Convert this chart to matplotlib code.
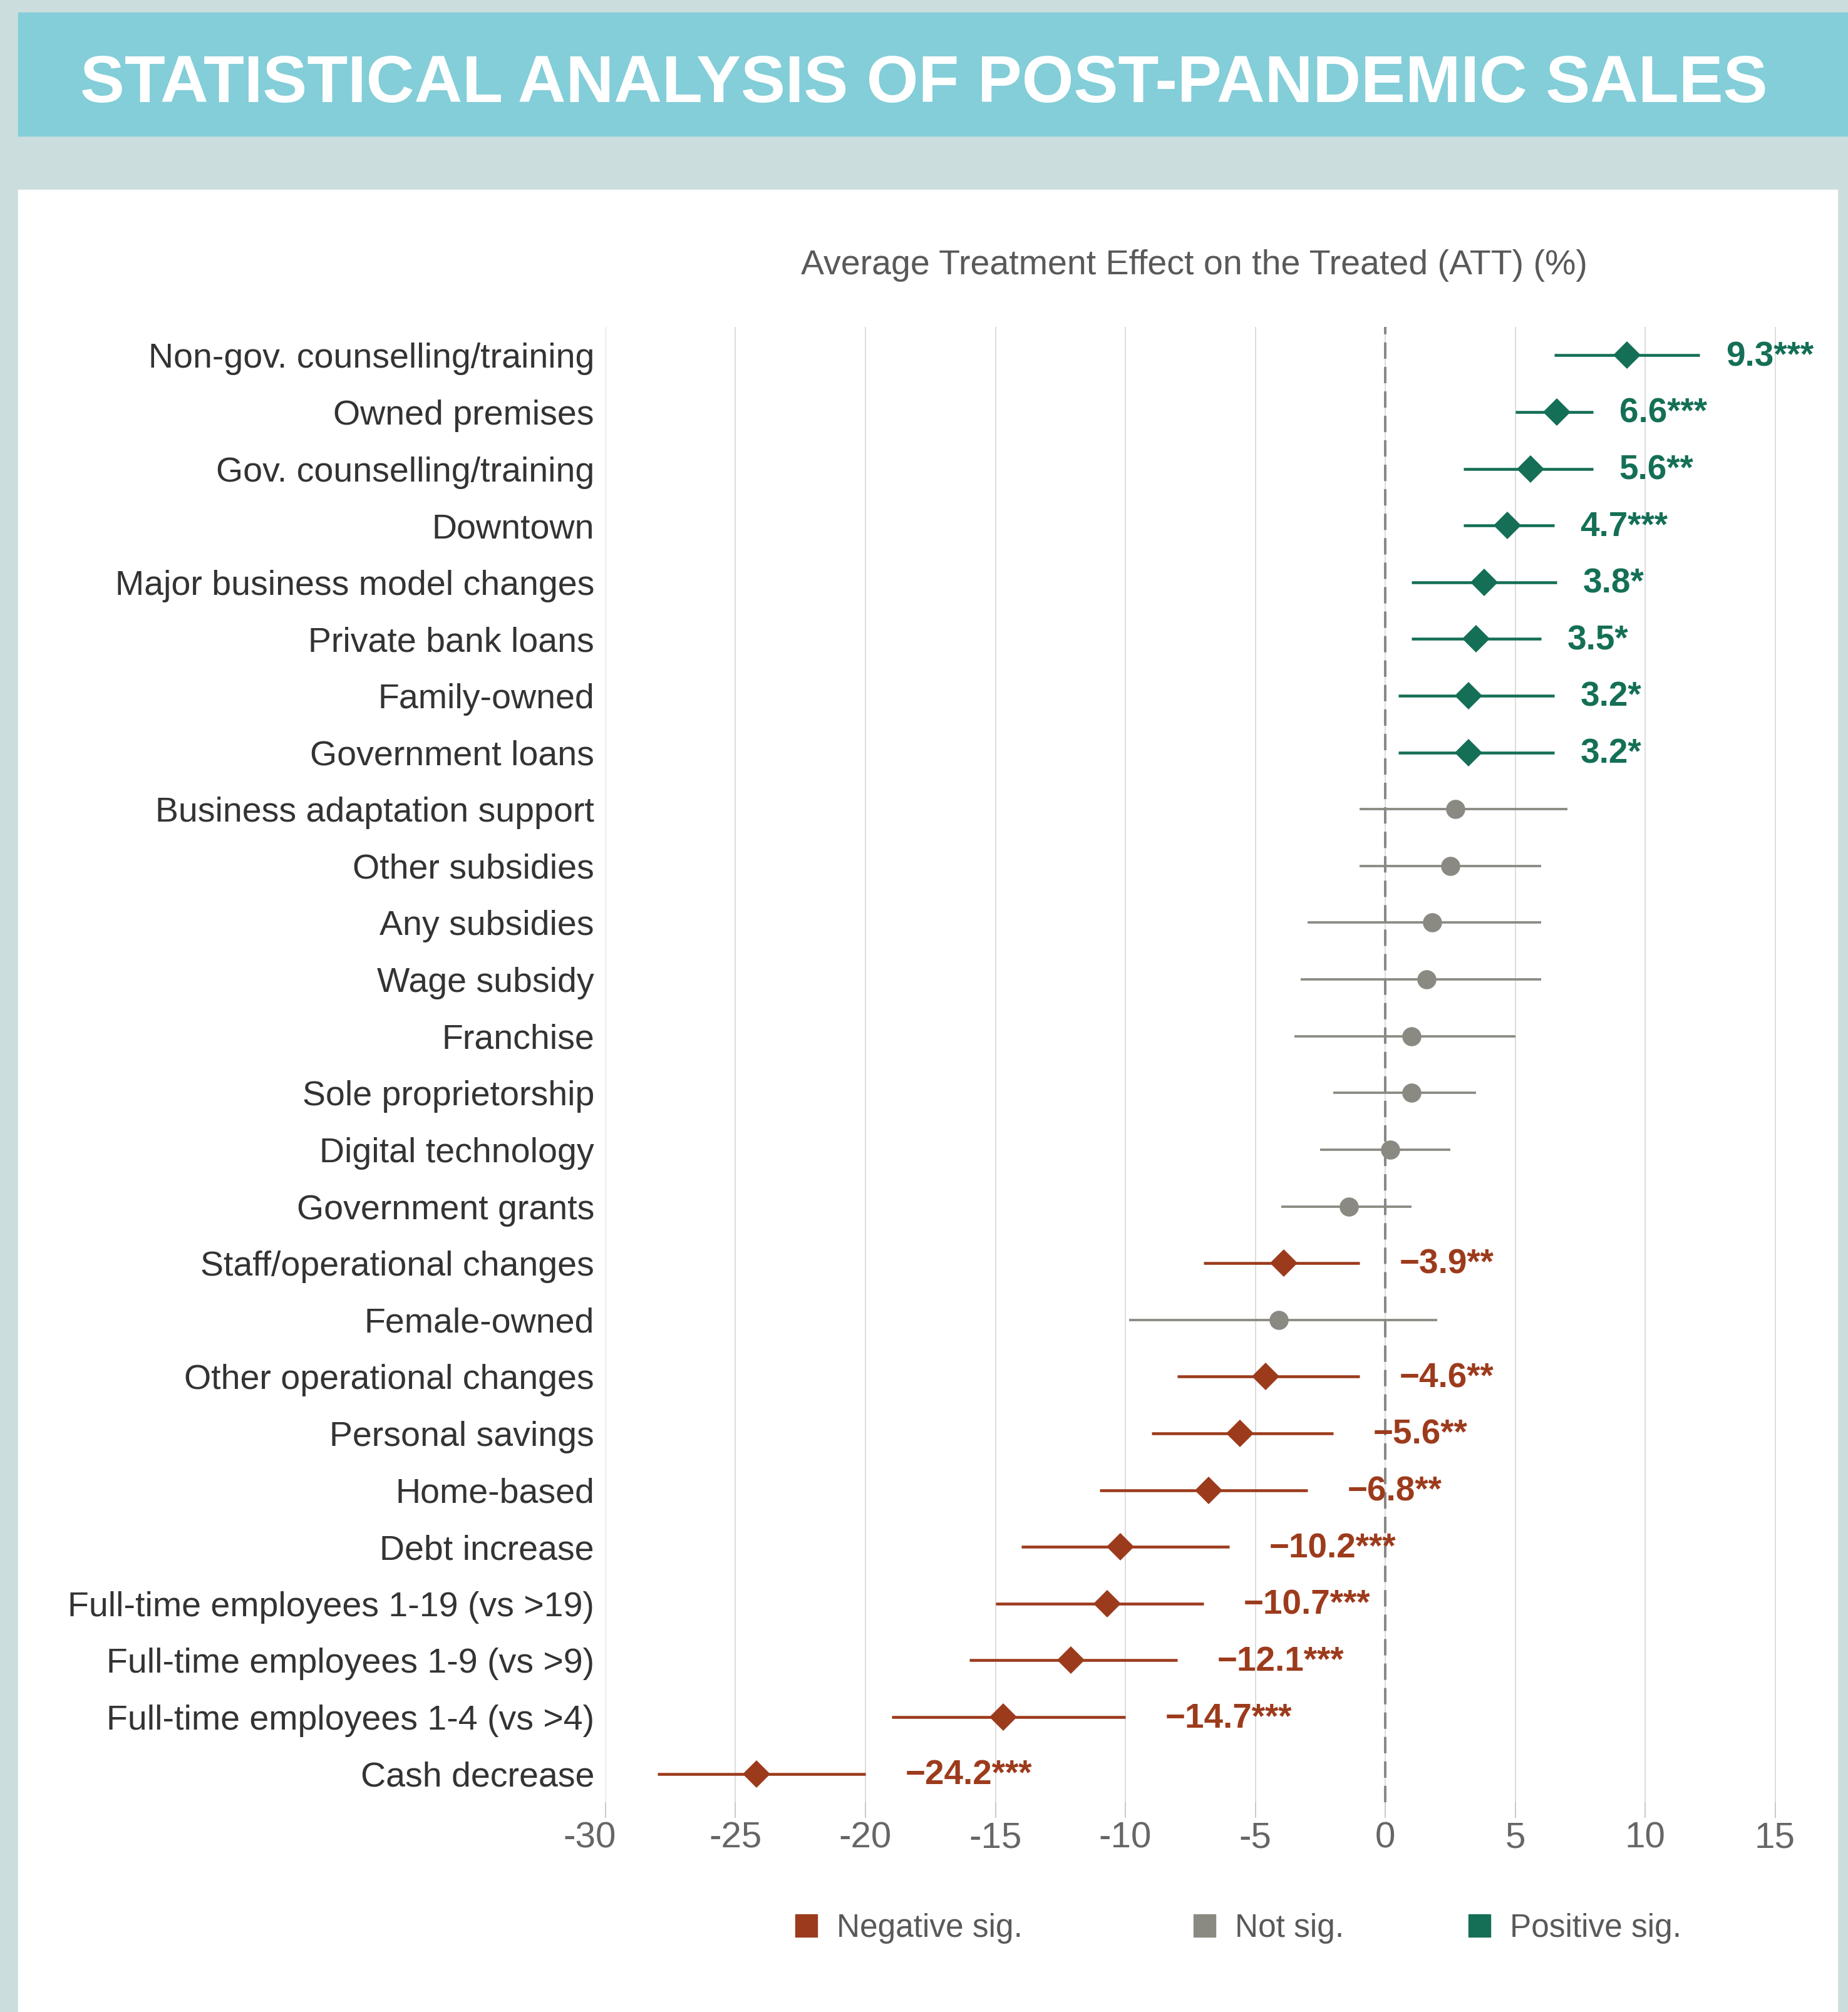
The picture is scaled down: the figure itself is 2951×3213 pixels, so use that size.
import matplotlib
matplotlib.use("Agg")
import matplotlib.pyplot as plt
from matplotlib.patches import Rectangle
import matplotlib.transforms as mtransforms
import numpy as np

plt.rcParams['font.family'] = ['Liberation Sans', 'DejaVu Sans']

# ---------------- data ----------------
categories = [
    "Non-gov. counselling/training", "Owned premises", "Gov. counselling/training",
    "Downtown", "Major business model changes", "Private bank loans", "Family-owned",
    "Government loans", "Business adaptation support", "Other subsidies",
    "Any subsidies", "Wage subsidy", "Franchise", "Sole proprietorship",
    "Digital technology", "Government grants", "Staff/operational changes",
    "Female-owned", "Other operational changes", "Personal savings", "Home-based",
    "Debt increase", "Full-time employees 1-19 (vs >19)",
    "Full-time employees 1-9 (vs >9)", "Full-time employees 1-4 (vs >4)",
    "Cash decrease",
]
att = [9.3, 6.6, 5.6, 4.7, 3.8, 3.5, 3.2, 3.2, 2.7, 2.5, 1.8, 1.6, 1.0, 1.0,
       0.2, -1.4, -3.9, -4.1, -4.6, -5.6, -6.8, -10.2, -10.7, -12.1, -14.7, -24.2]
ci_low = [6.5, 5.0, 3.0, 3.0, 1.0, 1.0, 0.5, 0.5, -1.0, -1.0, -3.0, -3.25, -3.5,
          -2.0, -2.5, -4.0, -7.0, -9.85, -8.0, -9.0, -11.0, -14.0, -15.0, -16.0,
          -19.0, -28.0]
ci_high = [12.1, 8.0, 8.0, 6.5, 6.6, 6.0, 6.5, 6.5, 7.0, 6.0, 6.0, 6.0, 5.0,
           3.5, 2.5, 1.0, -1.0, 2.0, -1.0, -2.0, -3.0, -6.0, -7.0, -8.0, -10.0,
           -20.0]
stars = ["***", "***", "**", "***", "*", "*", "*", "*", "", "", "", "", "", "",
         "", "", "**", "", "**", "**", "**", "***", "***", "***", "***", "***"]
significance = ["pos"] * 8 + ["ns"] * 8 + ["neg", "ns"] + ["neg"] * 8

x_ticks = [-30, -25, -20, -15, -10, -5, 0, 5, 10, 15]
x_tick_labels = ["-30", "-25", "-20", "-15", "-10", "-5", "0", "5", "10", "15"]

legend_keys = ["neg", "ns", "pos"]
legend_labels = ["Negative sig.", "Not sig.", "Positive sig."]

title = "STATISTICAL ANALYSIS OF POST-PANDEMIC SALES"
axis_title = "Average Treatment Effect on the Treated (ATT) (%)"

# ---------------- styles ----------------
colors = {"pos": "#146F56", "neg": "#9C3B1C", "ns": "#8A8A82"}
markers = {"pos": "D", "neg": "D", "ns": "o"}
msizes = {"pos": 22.5, "neg": 22.5, "ns": 22}
lws = {"pos": 3.3, "neg": 3.3, "ns": 2.7}

W, H = 2951, 3213
DPI = 100
fig = plt.figure(figsize=(W / DPI, H / DPI), dpi=DPI)
fig.patch.set_facecolor("#CCDDDD")

# banner and white panel
fig.add_artist(Rectangle((29 / W, 1 - 217 / H), (W - 29) / W, 197 / H,
                         transform=fig.transFigure, color="#83CED8", zorder=-5))
fig.add_artist(Rectangle((29 / W, 0), (2934 - 29) / W, (H - 303) / H,
                         transform=fig.transFigure, color="white", zorder=-5))

fig.text(0.5, 1 - 163 / H, title, ha="center", va="baseline", color="white",
         fontsize=76.5, fontweight="bold")

# axes
x0, x1 = -30, 15.3
px_per_unit = 41.5
left_px = 967
right_px = left_px + (x1 - x0) * px_per_unit
top_px, bottom_px = 522, 2878
ax = fig.add_axes([left_px / W, 1 - bottom_px / H, (right_px - left_px) / W,
                   (bottom_px - top_px) / H])
ax.set_facecolor("none")
ax.set_zorder(2)

n = len(categories)
y = np.arange(n)
att_a = np.array(att)
lo_a = np.array(ci_low)
hi_a = np.array(ci_high)

ax.axvline(0, color="#888888", lw=2.9, linestyle=(0, (6.5, 3.2)), zorder=1)

for key in ["ns", "neg", "pos"]:
    idx = np.array([i for i, s in enumerate(significance) if s == key])
    ax.errorbar(att_a[idx], y[idx],
                xerr=[att_a[idx] - lo_a[idx], hi_a[idx] - att_a[idx]],
                fmt=markers[key], color=colors[key], ms=msizes[key],
                mec=colors[key], mew=0, elinewidth=lws[key], capsize=6,
                capthick=lws[key], zorder=3)

for i in range(n):
    if significance[i] == "ns":
        continue
    txt = f"{att[i]:.1f}".replace("-", "\u2212") + stars[i]
    off = 30 if significance[i] == "pos" else 46
    ax.annotate(txt, xy=(ci_high[i], y[i]), xytext=(off, -2),
                textcoords="offset points", ha="left", va="center",
                color=colors[significance[i]], fontsize=39.5, fontweight="bold",
                annotation_clip=False, zorder=4)

ax.set_xlim(x0, x1)
ax.set_ylim(n - 0.5, -0.5)
ax.set_yticks(y)
ax.set_yticklabels(categories)
ax.set_xticks(x_ticks)
ax.set_xticklabels(x_tick_labels)
ax.tick_params(axis="y", length=0, pad=13, labelsize=40, labelcolor="#333333")
ax.tick_params(axis="x", length=18, width=1.1, color="#BBBBBB", pad=3.6,
               labelsize=42, labelcolor="#666666")
# first tick label sits a little to the left in the reference
first = ax.get_xticklabels()[0]
first.set_transform(first.get_transform() +
                    mtransforms.ScaledTranslation(-18 / 72, 0, fig.dpi_scale_trans))
ax.xaxis.grid(True, color="#DDDDDD", lw=1.4)
ax.set_axisbelow(True)
for s in ax.spines.values():
    s.set_visible(False)

fig.text(1907 / W, 1 - 438 / H, axis_title, ha="center", va="baseline",
         fontsize=40, color="#595959")

# legend
leg_x_px = [1270, 1906, 2345]
for key, lab, xp in zip(legend_keys, legend_labels, leg_x_px):
    fig.add_artist(Rectangle((xp / W, 1 - 3093 / H), 35 / W, 36 / H,
                             transform=fig.transFigure, color=colors[key]))
    fig.text((xp + 66) / W, 1 - 3093 / H, lab, ha="left", va="baseline",
             fontsize=37, color="#595959")

fig.savefig("out.png", dpi=DPI, facecolor=fig.get_facecolor())
